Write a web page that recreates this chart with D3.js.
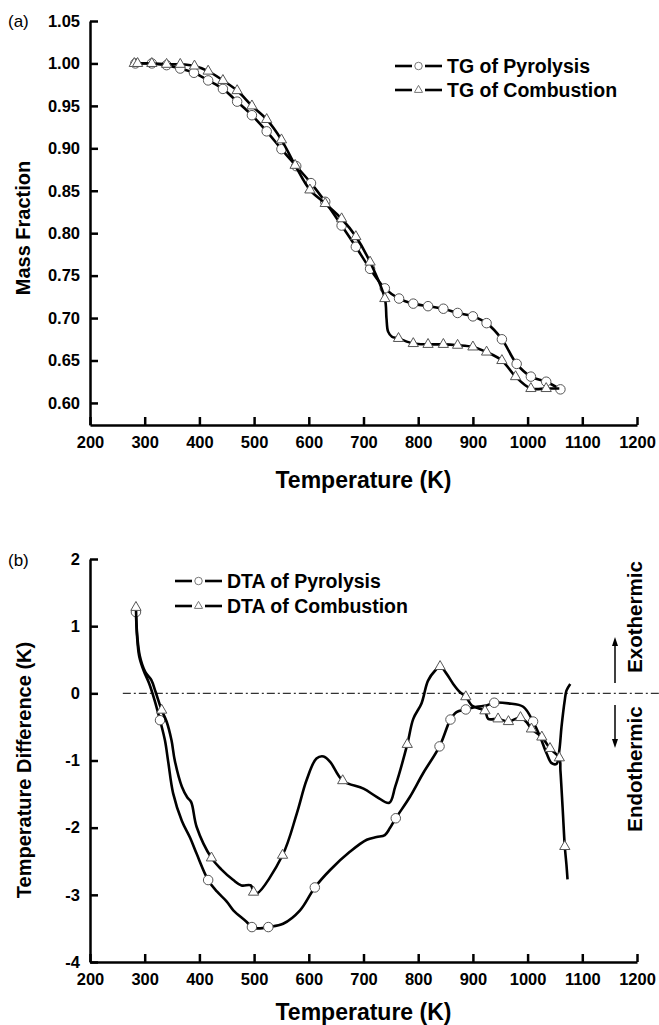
<!DOCTYPE html>
<html>
<head>
<meta charset="utf-8">
<script src="https://cdn.jsdelivr.net/npm/d3@7"></script>
<style>
body { margin: 0; background: #fff; }
svg { display: block; }
text { font-family: "Liberation Sans", Arial, sans-serif; }
</style>
</head>
<body>
<div id="wrapper"></div>
<script>
// temperature axis
const tempTicks = [200, 300, 400, 500, 600, 700, 800, 900, 1000, 1100, 1200];
const tgTicks = [0.60, 0.65, 0.70, 0.75, 0.80, 0.85, 0.90, 0.95, 1.00, 1.05];
const dtaTicks = [-4, -3, -2, -1, 0, 1, 2];

// [T (K), value, marker?]
const tgPyrolysis = [
    [283, 1.000, 1], [313, 1.000, 1], [340, 0.998, 1], [365, 0.994, 1], [390, 0.989, 1],
    [416, 0.980, 1], [443, 0.970, 1], [469, 0.955, 1], [496, 0.939, 1], [523, 0.920, 1],
    [550, 0.899, 1], [577, 0.879, 1], [604, 0.859, 1], [630, 0.837, 1], [660, 0.809, 1],
    [686, 0.784, 1], [712, 0.758, 1], [739, 0.735, 1], [765, 0.723, 1], [791, 0.717, 1],
    [818, 0.714, 1], [846, 0.711, 1], [872, 0.706, 1], [900, 0.702, 1], [925, 0.694, 1],
    [953, 0.675, 1], [980, 0.646, 1], [1006, 0.631, 1], [1034, 0.625, 1], [1060, 0.616, 1]
];
const tgCombustion = [
    [281, 1.000, 1], [287, 1.000, 1], [313, 1.000, 1], [340, 0.999, 1], [365, 0.999, 1],
    [391, 0.997, 1], [416, 0.991, 1], [443, 0.980, 1], [469, 0.968, 1], [496, 0.950, 1],
    [523, 0.934, 1], [550, 0.910, 1], [575, 0.880, 1], [602, 0.851, 1], [630, 0.835, 1],
    [660, 0.817, 1], [686, 0.796, 1], [712, 0.766, 1], [739, 0.723, 1], [742, 0.700, 0],
    [745, 0.684, 0], [752, 0.678, 0], [764, 0.676, 1], [791, 0.670, 1], [818, 0.669, 1],
    [846, 0.669, 1], [872, 0.668, 1], [900, 0.666, 1], [925, 0.660, 1], [953, 0.650, 1],
    [978, 0.631, 1], [1006, 0.617, 1], [1034, 0.617, 1], [1058, 0.617, 0]
];

const dtaPyrolysis = [
    [284, 1.21, 1], [286, 0.85, 0], [290, 0.55, 0], [298, 0.34, 0], [308, 0.15, 0],
    [318, -0.10, 0], [328, -0.40, 1], [337, -0.70, 0], [343, -1.02, 0], [352, -1.49, 0],
    [368, -1.90, 0], [383, -2.15, 0], [395, -2.39, 0], [416, -2.78, 1], [432, -2.95, 0],
    [450, -3.10, 0], [462, -3.23, 0], [486, -3.40, 0], [496, -3.48, 1], [511, -3.50, 0],
    [526, -3.48, 1], [553, -3.43, 0], [584, -3.23, 0], [611, -2.89, 1], [639, -2.63, 0],
    [675, -2.36, 0], [706, -2.18, 0], [724, -2.14, 0], [739, -2.11, 0], [748, -2.01, 0],
    [759, -1.86, 1], [785, -1.54, 0], [809, -1.19, 0], [839, -0.79, 1], [859, -0.39, 1],
    [870, -0.28, 0], [887, -0.24, 1], [907, -0.20, 0], [925, -0.18, 0], [939, -0.14, 1],
    [965, -0.15, 0], [992, -0.20, 0], [1010, -0.42, 1], [1023, -0.65, 0], [1035, -0.90, 0],
    [1044, -1.04, 0], [1053, -1.05, 0], [1058, -0.85, 0], [1062, -0.50, 0], [1068, -0.10, 0],
    [1071, 0.04, 0], [1078, 0.14, 0]
];
const dtaCombustion = [
    [284, 1.28, 1], [286, 0.90, 0], [291, 0.56, 0], [301, 0.32, 0], [312, 0.20, 0],
    [320, 0.02, 0], [331, -0.25, 1], [340, -0.42, 0], [349, -0.70, 0], [355, -1.00, 0],
    [368, -1.39, 0], [378, -1.55, 0], [385, -1.62, 0], [395, -1.99, 0], [422, -2.45, 1],
    [440, -2.62, 0], [462, -2.78, 0], [477, -2.86, 0], [494, -2.86, 0], [499, -2.96, 1],
    [505, -2.98, 0], [552, -2.41, 1], [578, -1.79, 0], [596, -1.29, 0], [614, -0.97, 0],
    [627, -0.94, 0], [639, -1.02, 0], [662, -1.30, 1], [700, -1.42, 0], [724, -1.54, 0],
    [747, -1.63, 0], [758, -1.39, 0], [780, -0.76, 1], [791, -0.38, 0], [806, -0.15, 0],
    [818, 0.19, 0], [831, 0.34, 0], [840, 0.40, 1], [852, 0.29, 0], [864, 0.14, 0],
    [876, 0.02, 0], [887, -0.05, 1], [898, -0.18, 0], [913, -0.23, 0], [922, -0.26, 1],
    [928, -0.38, 0], [946, -0.38, 1], [965, -0.42, 1], [987, -0.36, 1], [998, -0.43, 0],
    [1007, -0.53, 1], [1026, -0.65, 1], [1041, -0.82, 1], [1058, -0.96, 1], [1060, -1.15, 0],
    [1064, -1.70, 0], [1068, -2.28, 1], [1071, -2.55, 0], [1073, -2.77, 0]
];

const tgLegend = ["TG of Pyrolysis", "TG of Combustion"];
const dtaLegend = ["DTA of Pyrolysis", "DTA of Combustion"];

const dimension = { width: 659, height: 1025 };

const svg = d3.select("#wrapper").append("svg")
    .attr("width", dimension.width)
    .attr("height", dimension.height);

const xScaler = d3.scaleLinear().domain([200, 1200]).range([90, 637]);
const tgScaler = d3.scaleLinear().domain([0.574, 1.05]).range([425, 21]);
const dtaScaler = d3.scaleLinear().domain([-4, 2]).range([962, 559]);

const xAccessor = d => d[0];
const yAccessor = d => d[1];

function triangle(s) {
    return `M0,${-s * 0.62}L${s * 0.54},${s * 0.32}L${-s * 0.54},${s * 0.32}Z`;
}

function drawMarker(g, type, cx, cy, s, stroke) {
    if (type === "circle") {
        g.append("circle").attr("cx", cx).attr("cy", cy).attr("r", s / 2)
            .attr("fill", "#fff").attr("stroke", stroke).attr("stroke-width", 1);
    } else {
        g.append("path").attr("d", triangle(s))
            .attr("transform", `translate(${cx},${cy})`)
            .attr("fill", "#fff").attr("stroke", stroke).attr("stroke-width", 1);
    }
}

function drawAxes(yScaler, yTicks, yFormat, axisY) {
    const xAxis = d3.axisBottom(xScaler).tickValues(tempTicks).tickFormat(d => String(d))
        .tickSizeInner(-8).tickSizeOuter(0).tickPadding(11);
    const gx = svg.append("g").attr("transform", `translate(0,${axisY})`).call(xAxis);

    const yAxis = d3.axisLeft(yScaler).tickValues(yTicks).tickFormat(yFormat)
        .tickSizeInner(-8).tickSizeOuter(0).tickPadding(10);
    const gy = svg.append("g").attr("transform", "translate(90,0)").call(yAxis);

    [gx, gy].forEach(g => {
        g.attr("font-family", null).attr("font-size", null);
        g.select(".domain").attr("stroke", "#000").attr("stroke-width", 2.5);
        g.selectAll(".tick line").attr("stroke", "#000").attr("stroke-width", 2.5);
        g.selectAll(".tick text").attr("fill", "#000")
            .style("font-size", "16.5px").style("font-weight", "bold");
    });
}

function drawSeries(yScaler, data, type) {
    const lineGenerator = d3.line()
        .x(d => xScaler(xAccessor(d)))
        .y(d => yScaler(yAccessor(d)))
        .curve(d3.curveCatmullRom.alpha(0.5));
    svg.append("path").datum(data)
        .attr("d", lineGenerator)
        .attr("fill", "none").attr("stroke", "#000")
        .attr("stroke-width", 2.6).attr("stroke-linejoin", "round");
    const g = svg.append("g");
    data.filter(d => d[2]).forEach(d => {
        drawMarker(g, type, xScaler(d[0]), yScaler(d[1]), 9.5, "#555");
    });
}

function drawLegend(labels, x0, rows) {
    const types = ["circle", "triangle"];
    labels.forEach((label, i) => {
        const y = rows[i];
        const g = svg.append("g");
        g.append("line").attr("x1", x0).attr("x2", x0 + 17).attr("y1", y).attr("y2", y)
            .attr("stroke", "#000").attr("stroke-width", 2.6);
        g.append("line").attr("x1", x0 + 30).attr("x2", x0 + 47).attr("y1", y).attr("y2", y)
            .attr("stroke", "#000").attr("stroke-width", 2.6);
        drawMarker(g, types[i], x0 + 23.5, y, 7.5, "#777");
        g.append("text").attr("x", x0 + 52).attr("y", y + 7)
            .style("font-size", "19.5px").style("font-weight", "bold")
            .text(label);
    });
}

// ---- (a) TG ----
drawAxes(tgScaler, tgTicks, d3.format(".2f"), 425);
drawSeries(tgScaler, tgPyrolysis, "circle");
drawSeries(tgScaler, tgCombustion, "triangle");
drawLegend(tgLegend, 395, [66, 90]);

svg.append("text").attr("x", 8).attr("y", 27).style("font-size", "17px").text("(a)");
svg.append("text").attr("x", 363.5).attr("y", 488).attr("text-anchor", "middle")
    .style("font-size", "23px").style("font-weight", "bold").text("Temperature (K)");
svg.append("text").attr("transform", "translate(30,228) rotate(-90)").attr("text-anchor", "middle")
    .style("font-size", "20px").style("font-weight", "bold").text("Mass Fraction");

// ---- (b) DTA ----
drawAxes(dtaScaler, dtaTicks, d => String(d), 962);

svg.append("line")
    .attr("x1", xScaler(260)).attr("x2", 659)
    .attr("y1", dtaScaler(0)).attr("y2", dtaScaler(0))
    .attr("stroke", "#333").attr("stroke-width", 1.3)
    .attr("stroke-dasharray", "8,3,2,3");

drawSeries(dtaScaler, dtaPyrolysis, "circle");
drawSeries(dtaScaler, dtaCombustion, "triangle");
drawLegend(dtaLegend, 175, [581, 606]);

svg.append("text").attr("x", 8).attr("y", 566).style("font-size", "17px").text("(b)");
svg.append("text").attr("x", 363.5).attr("y", 1020).attr("text-anchor", "middle")
    .style("font-size", "23px").style("font-weight", "bold").text("Temperature (K)");
svg.append("text").attr("transform", "translate(31,770) rotate(-90)").attr("text-anchor", "middle")
    .style("font-size", "20px").style("font-weight", "bold").text("Temperature Difference (K)");

// exo / endo markers
svg.append("text").attr("transform", "translate(642,617) rotate(-90)").attr("text-anchor", "middle")
    .style("font-size", "20.5px").style("font-weight", "bold").text("Exothermic");
svg.append("text").attr("transform", "translate(642,769) rotate(-90)").attr("text-anchor", "middle")
    .style("font-size", "20.5px").style("font-weight", "bold").text("Endothermic");

svg.append("line").attr("x1", 615).attr("x2", 615).attr("y1", 683).attr("y2", 644)
    .attr("stroke", "#000").attr("stroke-width", 1.5);
svg.append("path").attr("d", "M615,637L618,646L612,646Z").attr("fill", "#000");
svg.append("line").attr("x1", 615).attr("x2", 615).attr("y1", 705).attr("y2", 741)
    .attr("stroke", "#000").attr("stroke-width", 1.5);
svg.append("path").attr("d", "M615,748L618,739L612,739Z").attr("fill", "#000");
</script>
</body>
</html>
